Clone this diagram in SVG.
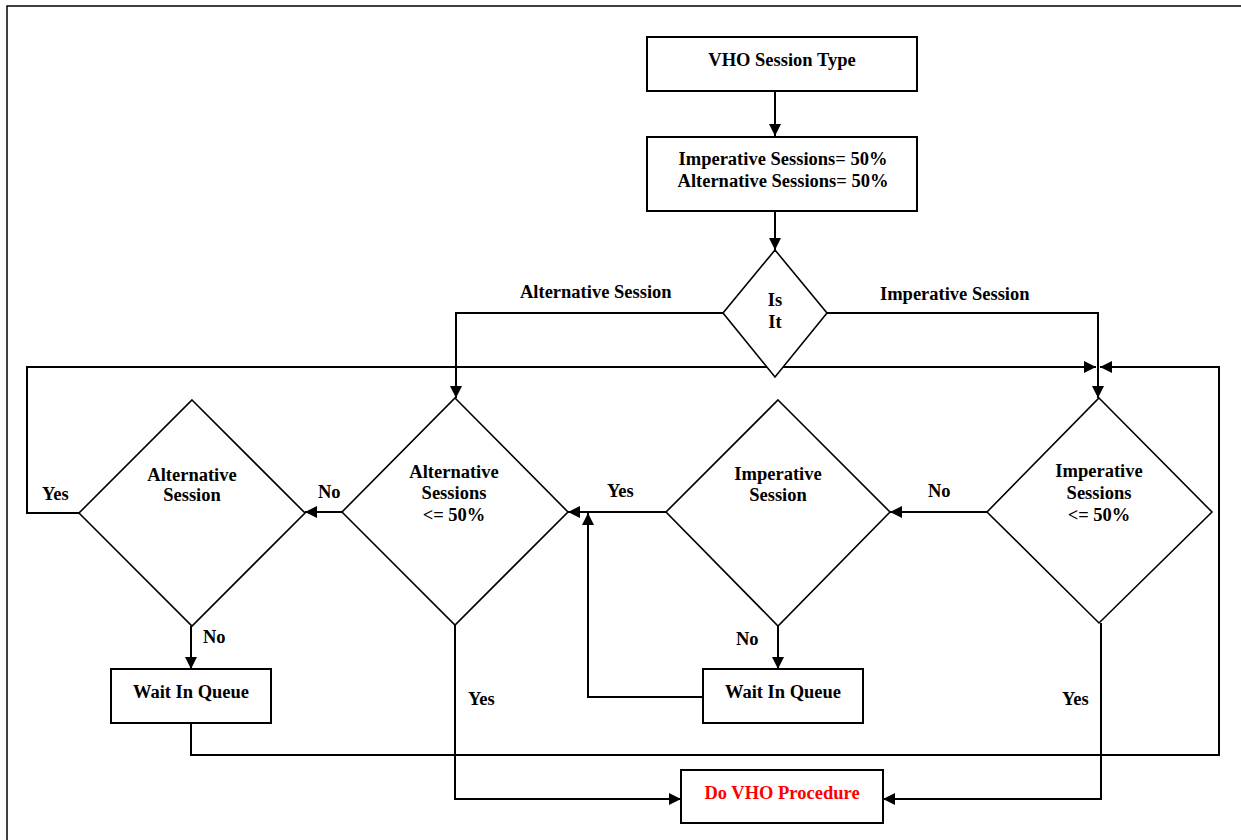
<svg xmlns="http://www.w3.org/2000/svg" width="1241" height="840" viewBox="0 0 1241 840">
<style>
.box{fill:#fff;stroke:#000;stroke-width:2}
.dia{fill:#fff;stroke:#000;stroke-width:1.6}
.ln{fill:none;stroke:#000;stroke-width:2}
.t{font-family:"Liberation Serif","Times New Roman",serif;font-weight:bold;font-size:18.5px;fill:#000;text-anchor:middle}
.l{font-family:"Liberation Serif","Times New Roman",serif;font-weight:bold;font-size:18.5px;fill:#000}
</style>
<defs>
<marker id="ah" viewBox="0 0 12 12" refX="12" refY="6" markerWidth="12" markerHeight="12" markerUnits="userSpaceOnUse" orient="auto">
<path d="M0,0 L12,6 L0,12 Z" fill="#000"/>
</marker>
</defs>
<rect width="1241" height="840" fill="#fff"/>
<path d="M7,840 V6 H1241" fill="none" stroke="#000" stroke-width="1.5"/>
<g id="connectors">
<path class="ln" d="M775,91 V136" marker-end="url(#ah)"/>
<path class="ln" d="M775,211 V250" marker-end="url(#ah)"/>
<path class="ln" d="M723,313 H456 V398" marker-end="url(#ah)"/>
<path class="ln" d="M827,313 H1098 V398" marker-end="url(#ah)"/>
<path class="ln" d="M79,513 H27 V367 H1096" marker-end="url(#ah)"/>
<path class="ln" d="M191,723 V755 H1219 V367 H1100" marker-end="url(#ah)"/>
<path class="ln" d="M342,512 H305" marker-end="url(#ah)"/>
<path class="ln" d="M191,626 V669" marker-end="url(#ah)"/>
<path class="ln" d="M666,512 H568" marker-end="url(#ah)"/>
<path class="ln" d="M703,697 H588 V513" marker-end="url(#ah)"/>
<path class="ln" d="M987,512 H890" marker-end="url(#ah)"/>
<path class="ln" d="M778,626 V669" marker-end="url(#ah)"/>
<path class="ln" d="M455,625 V799 H681" marker-end="url(#ah)"/>
<path class="ln" d="M1101,623 V799 H883" marker-end="url(#ah)"/>
</g>
<g id="labels">
<text class="l" x="520" y="298">Alternative Session</text>
<text class="l" x="880" y="300">Imperative Session</text>
<text class="l" x="42" y="500">Yes</text>
<text class="l" x="318" y="498">No</text>
<text class="l" x="607" y="497">Yes</text>
<text class="l" x="928" y="497">No</text>
<text class="l" x="203" y="643">No</text>
<text class="l" x="736" y="645">No</text>
<text class="l" x="468" y="705">Yes</text>
<text class="l" x="1062" y="705">Yes</text>
</g>
<g id="n_vho_type">
<rect class="box" x="647" y="37" width="270" height="54"/>
<text class="t" x="782" y="66">VHO Session Type</text>
</g>
<g id="n_init">
<rect class="box" x="647" y="137" width="270" height="74"/>
<text class="t" x="783" y="165">Imperative Sessions= 50%</text>
<text class="t" x="783" y="187">Alternative Sessions= 50%</text>
</g>
<g id="n_isit">
<polygon class="dia" points="775,250 827,313 775,377 723,313"/>
<text class="t" x="775" y="306">Is</text>
<text class="t" x="775" y="328">It</text>
</g>
<g id="n_alt_session">
<polygon class="dia" points="192,400 305,513 192,626 79,513"/>
<text class="t" x="192" y="481">Alternative</text>
<text class="t" x="192" y="501">Session</text>
</g>
<g id="n_alt_check">
<polygon class="dia" points="455,398 568,512 455,625 342,512"/>
<text class="t" x="454" y="478">Alternative</text>
<text class="t" x="454" y="499">Sessions</text>
<text class="t" x="454" y="521">&lt;= 50%</text>
</g>
<g id="n_imp_session">
<polygon class="dia" points="778,400 890,512 778,626 666,512"/>
<text class="t" x="778" y="480">Imperative</text>
<text class="t" x="778" y="501">Session</text>
</g>
<g id="n_imp_check">
<polygon class="dia" points="1099,398 1212,512 1099,623 987,512"/>
<text class="t" x="1099" y="477">Imperative</text>
<text class="t" x="1099" y="499">Sessions</text>
<text class="t" x="1099" y="521">&lt;= 50%</text>
</g>
<g id="n_wait_left">
<rect class="box" x="111" y="669" width="160" height="54"/>
<text class="t" x="191" y="698">Wait In Queue</text>
</g>
<g id="n_wait_mid">
<rect class="box" x="703" y="669" width="160" height="54"/>
<text class="t" x="783" y="698">Wait In Queue</text>
</g>
<g id="n_do_vho">
<rect class="box" x="681" y="770" width="202" height="53"/>
<text class="t" x="782" y="799" style="fill:#ff0000">Do VHO Procedure</text>
</g>
</svg>
